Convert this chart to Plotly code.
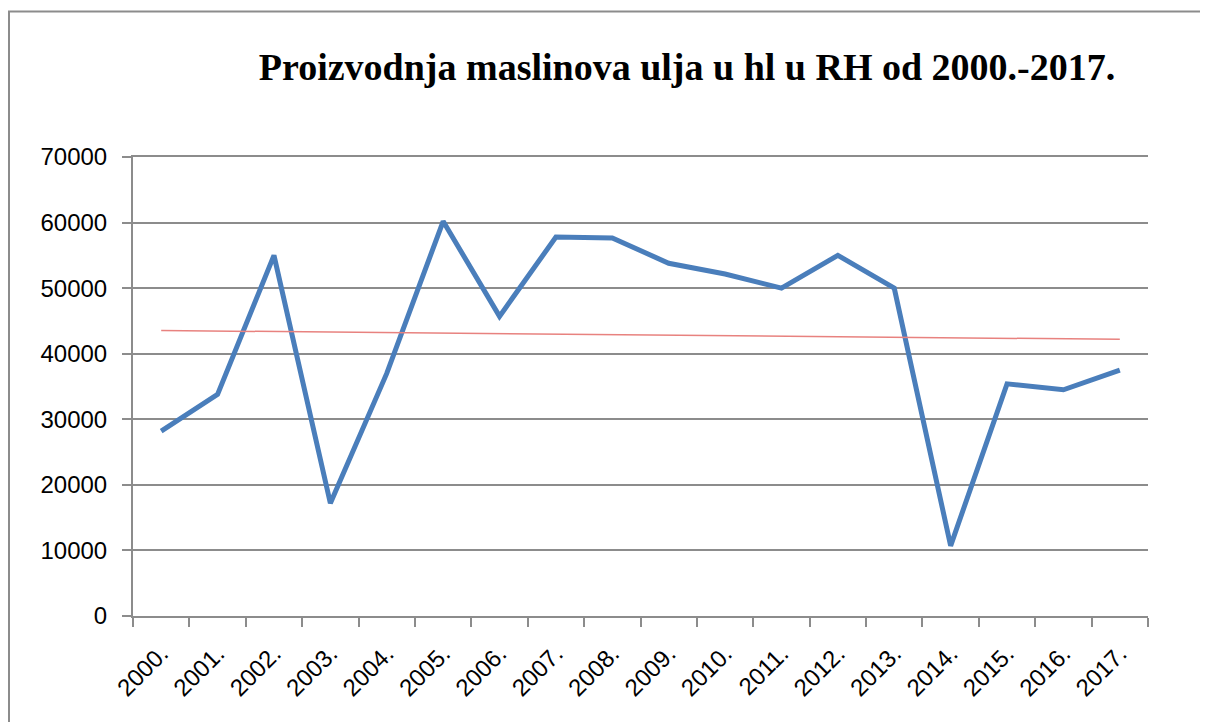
import numpy as np
import plotly.graph_objects as go

years = ["2000.", "2001.", "2002.", "2003.", "2004.", "2005.", "2006.", "2007.", "2008.",
         "2009.", "2010.", "2011.", "2012.", "2013.", "2014.", "2015.", "2016.", "2017."]
production = [28200, 33800, 55000, 17200, 37000, 60200, 45700, 57800, 57650,
              53800, 52150, 50000, 55000, 50000, 10700, 35400, 34500, 37500]

idx = np.arange(len(years))
slope, intercept = np.polyfit(idx, production, 1)
trend = slope * idx + intercept

fig = go.Figure()
fig.add_trace(go.Scatter(x=years, y=production, mode="lines",
                         line=dict(color="#4A7EBB", width=5), name="Proizvodnja"))
fig.add_trace(go.Scatter(x=years, y=trend, mode="lines",
                         line=dict(color="#E8827F", width=1.5), name="Trend"))

OFF = 8  # page body margin
W, H = 1208 - OFF, 722 - OFF
L, R, T, B = 133 - OFF, 60, 157 - OFF, 106
pw, ph = W - L - R, H - T - B

def px(x):
    return (x - OFF - L) / pw

def py(y):
    return (H - B - (y - OFF)) / ph

fig.update_layout(
    width=W, height=H,
    margin=dict(l=L, r=R, t=T, b=B),
    paper_bgcolor="white", plot_bgcolor="white",
    showlegend=False,
    title=dict(text="<b>Proizvodnja maslinova ulja u hl u RH od 2000.-2017.</b>",
               font=dict(family="Liberation Serif", size=38, color="black"),
               x=(687 - OFF) / W, xanchor="center", y=1 - (67 - OFF) / H, yanchor="middle"),
    xaxis=dict(type="category", range=[-0.5, 17.5], showgrid=False,
               showline=True, linecolor="#8C8C8C", linewidth=2, mirror=True,
               ticks="outside", tickson="boundaries", ticklen=9, tickwidth=2,
               tickcolor="#8C8C8C", tickangle=-45, ticklabelstandoff=12,
               tickfont=dict(family="Liberation Sans", size=24, color="black")),
    yaxis=dict(range=[0, 70000], dtick=10000, showgrid=True, gridcolor="#8C8C8C",
               gridwidth=2, showline=True, linecolor="#8C8C8C", linewidth=2,
               ticks="outside", ticklen=9, tickwidth=2, tickcolor="#8C8C8C",
               zeroline=False, tickformat="d", ticklabelstandoff=10,
               tickfont=dict(family="Liberation Sans", size=24, color="black")),
    shapes=[dict(type="rect", xref="paper", yref="paper",
                 x0=px(9), x1=px(1215), y0=py(730), y1=py(11.5),
                 line=dict(color="#8C8C8C", width=2), layer="below")],
)

fig.write_html("out.html")
